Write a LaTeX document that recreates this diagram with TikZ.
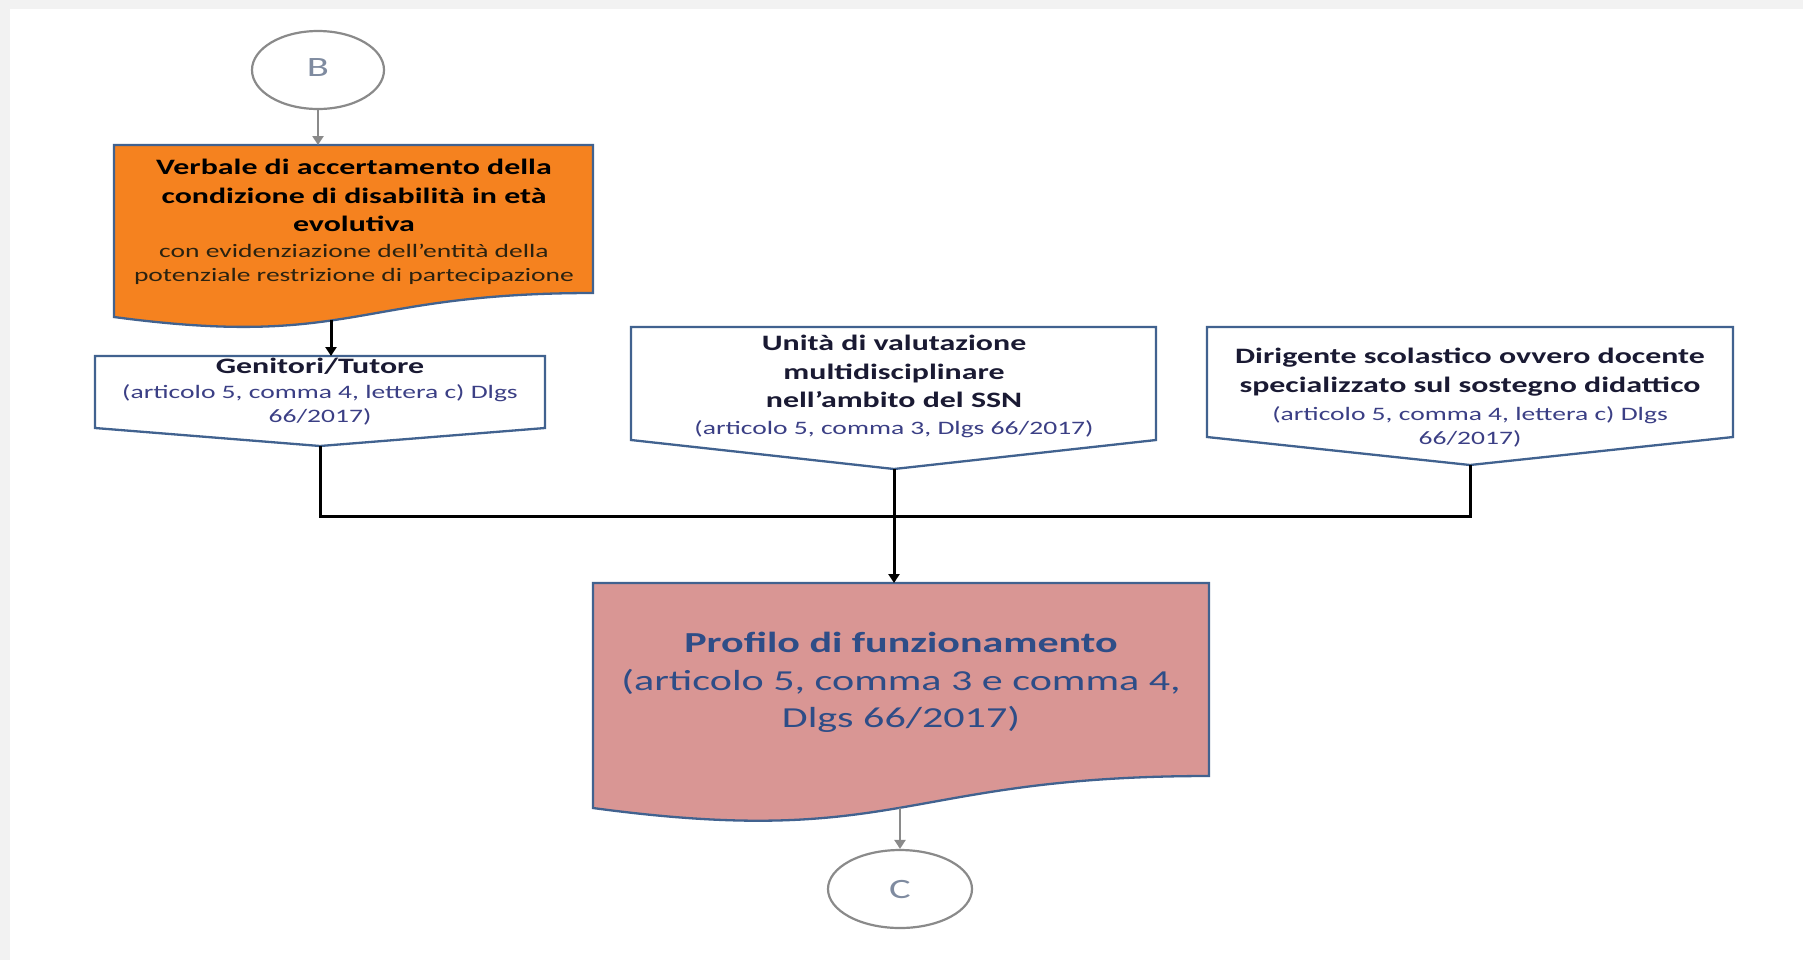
\documentclass[tikz,border=0pt]{standalone}
\usepackage{fontspec}
\setmainfont{Carlito}[FakeStretch=1.45]
\usetikzlibrary{arrows.meta,shapes.geometric}

\definecolor{pagegray}{HTML}{F2F2F2}
\definecolor{boxline}{HTML}{41628F}
\definecolor{orangefill}{HTML}{F5821F}
\definecolor{rosefill}{HTML}{D99694}
\definecolor{rosetext}{HTML}{2E4D87}
\definecolor{titletext}{HTML}{1A1A33}
\definecolor{subtext}{HTML}{3B3F85}
\definecolor{orangesub}{HTML}{2B2210}
\definecolor{connline}{HTML}{8A8A8A}
\definecolor{connletter}{HTML}{7F8BA0}

\tikzset{
  boxshape/.style={draw=boxline, line width=1.15pt, line join=miter},
  titlefont/.style={font=\fontsize{11}{14.25}\selectfont\bfseries, align=center, inner sep=0pt},
  subfont/.style={font=\fontsize{9.5}{12}\selectfont, align=center, inner sep=0pt},
  connector/.style={ellipse, draw=connline, line width=1.1pt, fill=white, inner sep=0pt,
    text=connletter, font=\fontsize{14}{16}\selectfont},
  grayarrow/.style={draw=connline, line width=1.1pt, -{Triangle[length=4.5pt,width=5.5pt]}},
  blackline/.style={draw=black, line width=1.5pt},
  blackarrow/.style={blackline, -{Triangle[length=4.5pt,width=5.5pt]}},
}

\begin{document}
\begin{tikzpicture}[x=0.5pt,y=-0.5pt]
  % page frame
  \fill[pagegray] (0,0) rectangle (1803,960);
  \fill[white] (10,9) rectangle (1803,960);
  \useasboundingbox (0,0) rectangle (1803,960);

  % document shapes
  \filldraw[boxshape, fill=orangefill] (114,145) -- (593,145) -- (593,293)
    .. controls (353.5,293) and (353.5,349) .. (114,317) -- cycle;
  \filldraw[boxshape, fill=rosefill] (593,583) -- (1209,583) -- (1209,776)
    .. controls (901,776) and (901,849.5) .. (593,808) -- cycle;

  % off-page style boxes
  \filldraw[boxshape, fill=white] (95,356) -- (545,356) -- (545,428) -- (320,446) -- (95,428) -- cycle;
  \filldraw[boxshape, fill=white] (631,327) -- (1156,327) -- (1156,440) -- (894,469) -- (631,440) -- cycle;
  \filldraw[boxshape, fill=white] (1207,327) -- (1733,327) -- (1733,437) -- (1470,465) -- (1207,437) -- cycle;

  % connectors B and C
  \node[connector, minimum width=66pt, minimum height=39pt] (B) at (318,70) {\raisebox{2pt}{B}};
  \node[connector, minimum width=72pt, minimum height=39pt] (C) at (900,889) {C};

  % texts
  \node[titlefont, text=black] (verbT) at (354,195.5)
    {Verbale di accertamento della\\condizione di disabilità in età\\evolutiva};
  \node[subfont, text=orangesub] (verbS) at (354,264.5)
    {con evidenziazione dell’entità della\\potenziale restrizione di partecipazione};

  \node[titlefont, text=titletext] (genT) at (320,366) {Genitori/Tutore};
  \node[subfont, text=subtext] (genS) at (320,405)
    {(articolo 5, comma 4, lettera c) Dlgs\\66/2017)};

  \node[titlefont, text=titletext] (uniT) at (894,371.5)
    {Unità di valutazione\\multidisciplinare\\nell’ambito del SSN};
  \node[subfont, text=subtext] (uniS) at (894,429)
    {(articolo 5, comma 3, Dlgs 66/2017)};

  \node[titlefont, text=titletext] (dirT) at (1470,372)
    {Dirigente scolastico ovvero docente\\specializzato sul sostegno didattico};
  \node[subfont, text=subtext] (dirS) at (1470,426.5)
    {(articolo 5, comma 4, lettera c) Dlgs\\66/2017)};

  \node[font=\fontsize{14.5}{18.5}\selectfont\bfseries, text=rosetext, inner sep=0pt] (profT) at (901,642)
    {Profilo di funzionamento};
  \node[font=\fontsize{14.5}{18.5}\selectfont, text=rosetext, align=center, inner sep=0pt] (profS) at (901,700.5)
    {(articolo 5, comma 3 e comma 4,\\Dlgs 66/2017)};

  % connection points on the shapes
  \coordinate (verb-in) at (318,145);
  \coordinate (verb-out) at (331,320);
  \coordinate (gen-in) at (331,356);
  \coordinate (gen-tip) at (320,446);
  \coordinate (uni-tip) at (894,469);
  \coordinate (dir-tip) at (1470,465);
  \coordinate (junction) at (894,516);
  \coordinate (prof-in) at (894,583);
  \coordinate (prof-out) at (900,808);

  % flow
  \draw[grayarrow] (B.south) -- (verb-in);
  \draw[blackarrow] (verb-out) -- (gen-in);
  \draw[blackline] (gen-tip) -- (gen-tip |- junction) -- (dir-tip |- junction) -- (dir-tip);
  \draw[blackarrow] (uni-tip) -- (prof-in);
  \draw[grayarrow] (prof-out) -- (C.north);
\end{tikzpicture}
\end{document}
